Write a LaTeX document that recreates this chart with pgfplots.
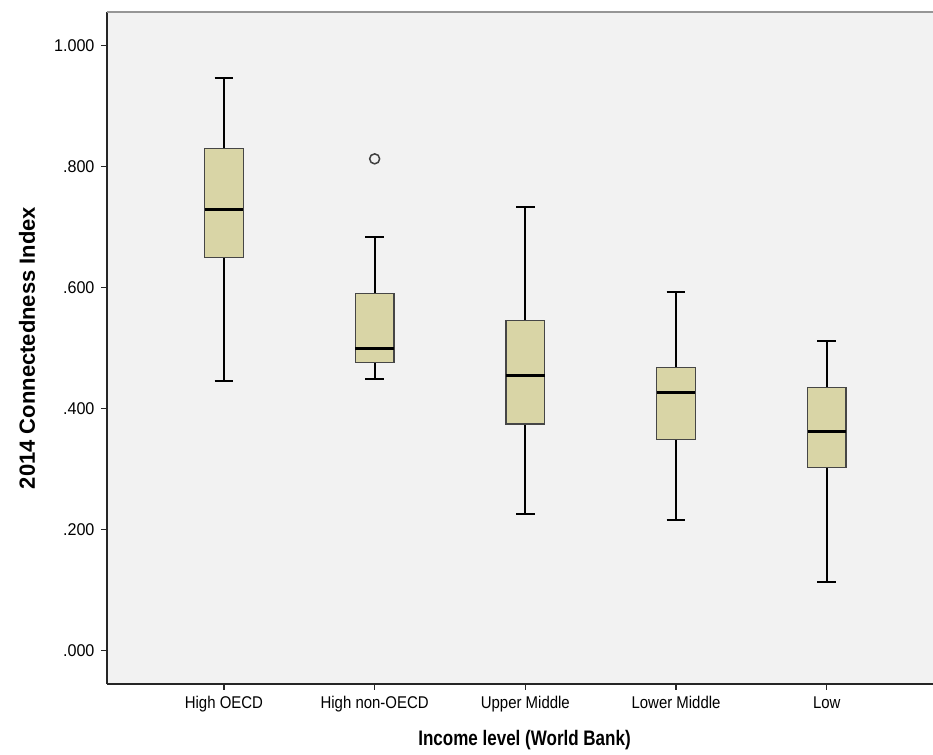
\documentclass[border=0pt]{standalone}
\usepackage{fontspec}
\setmainfont{Liberation Sans}
\newfontfamily\tickfont[FakeStretch=0.88]{Liberation Sans}
\newfontfamily\ytickfont[FakeStretch=0.95]{Liberation Sans}
\newfontfamily\xlabfont[FakeStretch=0.81]{Liberation Sans}
\usepackage{pgfplots}
\pgfplotsset{compat=1.18}
\usepgfplotslibrary{statistics}

\definecolor{bgc}{RGB}{242,242,242}
\definecolor{boxc}{RGB}{217,213,166}
\definecolor{boxedge}{RGB}{70,70,70}
\definecolor{topline}{RGB}{150,150,150}

\begin{document}
\begin{tikzpicture}
\path[use as bounding box] (-107bp,-71bp) rectangle (826bp,684bp);
\begin{axis}[
    at={(0,0)}, anchor=south west,
    scale only axis,
    width=826bp, height=672bp,
    xmin=0.224, xmax=5.705,
    ymin=-0.056, ymax=1.056,
    axis background/.style={fill=bgc},
    axis x line*=bottom, axis y line*=left,
    axis line style={line width=1.2bp, black!85},
    xtick={1,2,3,4,5},
    xticklabels={High OECD,High non-OECD,Upper Middle,Lower Middle,Low},
    ytick={0,0.2,0.4,0.6,0.8,1.0},
    yticklabels={.000,.200,.400,.600,.800,1.000},
    tick align=outside,
    major tick length=6bp,
    tick style={line width=1.2bp, black!85},
    x tick label style={font=\tickfont\fontsize{17bp}{20bp}\selectfont, yshift=-3bp},
    y tick label style={font=\ytickfont\fontsize{17bp}{20bp}\selectfont, xshift=-3bp},
    /pgf/number format/assume math mode=true,
    xlabel={Income level (World Bank)},
    ylabel={2014 Connectedness Index},
    xlabel style={font=\xlabfont\bfseries\fontsize{21bp}{24bp}\selectfont,
        at={(axis description cs:0.5055,0)}, anchor=center, yshift=-56bp},
    ylabel style={font=\bfseries\fontsize{22bp}{25bp}\selectfont,
        at={(axis description cs:-0.0969,0.5)}, anchor=center},
    boxplot/draw direction=y,
    boxplot/box extend=0.2555,
    boxplot/whisker extend=0.124,
    boxplot/every box/.style={draw=boxedge, line width=1.3bp, fill=boxc},
    boxplot/every median/.style={line width=3bp, black},
    boxplot/every whisker/.style={line width=2bp, black},
    clip=false,
]
\addplot[boxplot prepared={draw position=1,
    lower whisker=0.446, lower quartile=0.650, median=0.729,
    upper quartile=0.830, upper whisker=0.947}] coordinates {};
\addplot[boxplot prepared={draw position=2,
    lower whisker=0.448, lower quartile=0.476, median=0.499,
    upper quartile=0.590, upper whisker=0.683},
    mark=o, mark size=5bp, mark options={draw=black!75, line width=1.5bp, fill=none}]
    coordinates {(0,0.813)};
\addplot[boxplot prepared={draw position=3,
    lower whisker=0.225, lower quartile=0.374, median=0.454,
    upper quartile=0.545, upper whisker=0.734}] coordinates {};
\addplot[boxplot prepared={draw position=4,
    lower whisker=0.215, lower quartile=0.349, median=0.427,
    upper quartile=0.468, upper whisker=0.592}] coordinates {};
\addplot[boxplot prepared={draw position=5,
    lower whisker=0.112, lower quartile=0.302, median=0.362,
    upper quartile=0.435, upper whisker=0.511}] coordinates {};
\draw[topline, line width=1.5bp] (rel axis cs:0,1) -- (rel axis cs:1,1);
\end{axis}
\end{tikzpicture}
\end{document}
